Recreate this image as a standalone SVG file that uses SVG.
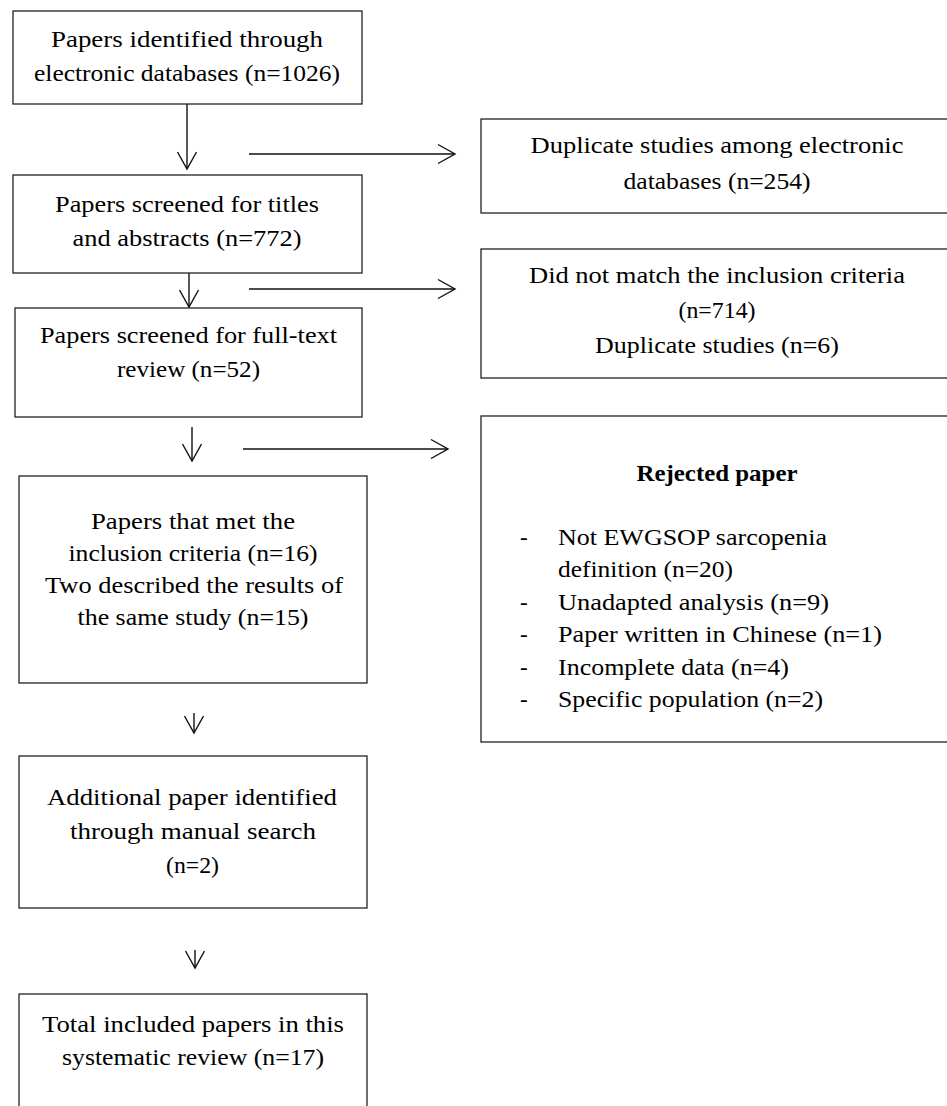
<svg xmlns="http://www.w3.org/2000/svg" width="947" height="1106" viewBox="0 0 947 1106">
<style>
.box{fill:#fff;stroke:#222;stroke-width:1.3}
.t{font-family:"Liberation Serif","Times New Roman",serif;font-size:23px;fill:#000}
.c{text-anchor:middle}
.b{font-weight:bold}
.ln{stroke:#111;stroke-width:1.4;fill:none}
</style>
<defs>
<marker id="v" viewBox="0 0 20 22" refX="18" refY="11" markerWidth="20" markerHeight="22" orient="auto" markerUnits="userSpaceOnUse">
<path d="M1,1.5 L18,11 L1,20.5" fill="none" stroke="#111" stroke-width="1.4"/>
</marker>
</defs>
<rect width="947" height="1106" fill="#fff"/>
<g id="connectors">
<line class="ln" x1="187" y1="104" x2="187" y2="169" marker-end="url(#v)"/>
<line class="ln" x1="189" y1="273" x2="189" y2="307" marker-end="url(#v)"/>
<line class="ln" x1="192" y1="427" x2="192" y2="461" marker-end="url(#v)"/>
<line class="ln" x1="194" y1="713" x2="194" y2="733" marker-end="url(#v)"/>
<line class="ln" x1="195" y1="950" x2="195" y2="968" marker-end="url(#v)"/>
<line class="ln" x1="249" y1="154" x2="455" y2="154" marker-end="url(#v)"/>
<line class="ln" x1="249" y1="289" x2="455" y2="289" marker-end="url(#v)"/>
<line class="ln" x1="243" y1="449" x2="448" y2="449" marker-end="url(#v)"/>
</g>
<g id="n1">
<rect class="box" x="13" y="11" width="349" height="93"/>
<text class="t c" x="187" y="47" textLength="272" lengthAdjust="spacingAndGlyphs">Papers identified through</text>
<text class="t c" x="187" y="81" textLength="306" lengthAdjust="spacingAndGlyphs">electronic databases (n=1026)</text>
</g>
<g id="n2">
<rect class="box" x="13" y="175" width="349" height="98"/>
<text class="t c" x="187" y="212" textLength="264" lengthAdjust="spacingAndGlyphs">Papers screened for titles</text>
<text class="t c" x="187" y="246" textLength="229" lengthAdjust="spacingAndGlyphs">and abstracts (n=772)</text>
</g>
<g id="n3">
<rect class="box" x="15" y="308" width="347" height="109"/>
<text class="t c" x="188.5" y="343" textLength="297" lengthAdjust="spacingAndGlyphs">Papers screened for full-text</text>
<text class="t c" x="188.5" y="377" textLength="143" lengthAdjust="spacingAndGlyphs">review (n=52)</text>
</g>
<g id="n4">
<rect class="box" x="19" y="476" width="348" height="207"/>
<text class="t c" x="193" y="529" textLength="204" lengthAdjust="spacingAndGlyphs">Papers that met the</text>
<text class="t c" x="193" y="561" textLength="249" lengthAdjust="spacingAndGlyphs">inclusion criteria (n=16)</text>
<text class="t c" x="194" y="593" textLength="298" lengthAdjust="spacingAndGlyphs">Two described the results of</text>
<text class="t c" x="193" y="625" textLength="231" lengthAdjust="spacingAndGlyphs">the same study (n=15)</text>
</g>
<g id="n5">
<rect class="box" x="19" y="756" width="348" height="152"/>
<text class="t c" x="192" y="805" textLength="290" lengthAdjust="spacingAndGlyphs">Additional paper identified</text>
<text class="t c" x="193" y="839" textLength="246" lengthAdjust="spacingAndGlyphs">through manual search</text>
<text class="t c" x="192.5" y="873" textLength="53" lengthAdjust="spacingAndGlyphs">(n=2)</text>
</g>
<g id="n6">
<rect class="box" x="19" y="994" width="348" height="130"/>
<text class="t c" x="193" y="1032" textLength="302" lengthAdjust="spacingAndGlyphs">Total included papers in this</text>
<text class="t c" x="193" y="1065" textLength="262" lengthAdjust="spacingAndGlyphs">systematic review (n=17)</text>
</g>
<g id="r1">
<rect class="box" x="481" y="119" width="480" height="94"/>
<text class="t c" x="717" y="153" textLength="373" lengthAdjust="spacingAndGlyphs">Duplicate studies among electronic</text>
<text class="t c" x="717" y="189" textLength="187" lengthAdjust="spacingAndGlyphs">databases (n=254)</text>
</g>
<g id="r2">
<rect class="box" x="481" y="249" width="480" height="129"/>
<text class="t c" x="717" y="283" textLength="376" lengthAdjust="spacingAndGlyphs">Did not match the inclusion criteria</text>
<text class="t c" x="717" y="318" textLength="77" lengthAdjust="spacingAndGlyphs">(n=714)</text>
<text class="t c" x="717" y="353" textLength="244" lengthAdjust="spacingAndGlyphs">Duplicate studies (n=6)</text>
</g>
<g id="r3">
<rect class="box" x="481" y="416" width="480" height="326"/>
<text class="t c b" x="717" y="481" textLength="161" lengthAdjust="spacingAndGlyphs">Rejected paper</text>
<text class="t" x="520" y="545">-</text>
<text class="t" x="558" y="545" textLength="269" lengthAdjust="spacingAndGlyphs">Not EWGSOP sarcopenia</text>
<text class="t" x="558" y="577" textLength="175" lengthAdjust="spacingAndGlyphs">definition (n=20)</text>
<text class="t" x="520" y="610">-</text>
<text class="t" x="558" y="610" textLength="271" lengthAdjust="spacingAndGlyphs">Unadapted analysis (n=9)</text>
<text class="t" x="520" y="642">-</text>
<text class="t" x="558" y="642" textLength="324" lengthAdjust="spacingAndGlyphs">Paper written in Chinese (n=1)</text>
<text class="t" x="520" y="675">-</text>
<text class="t" x="558" y="675" textLength="231" lengthAdjust="spacingAndGlyphs">Incomplete data (n=4)</text>
<text class="t" x="520" y="707">-</text>
<text class="t" x="558" y="707" textLength="265" lengthAdjust="spacingAndGlyphs">Specific population (n=2)</text>
</g>
</svg>
